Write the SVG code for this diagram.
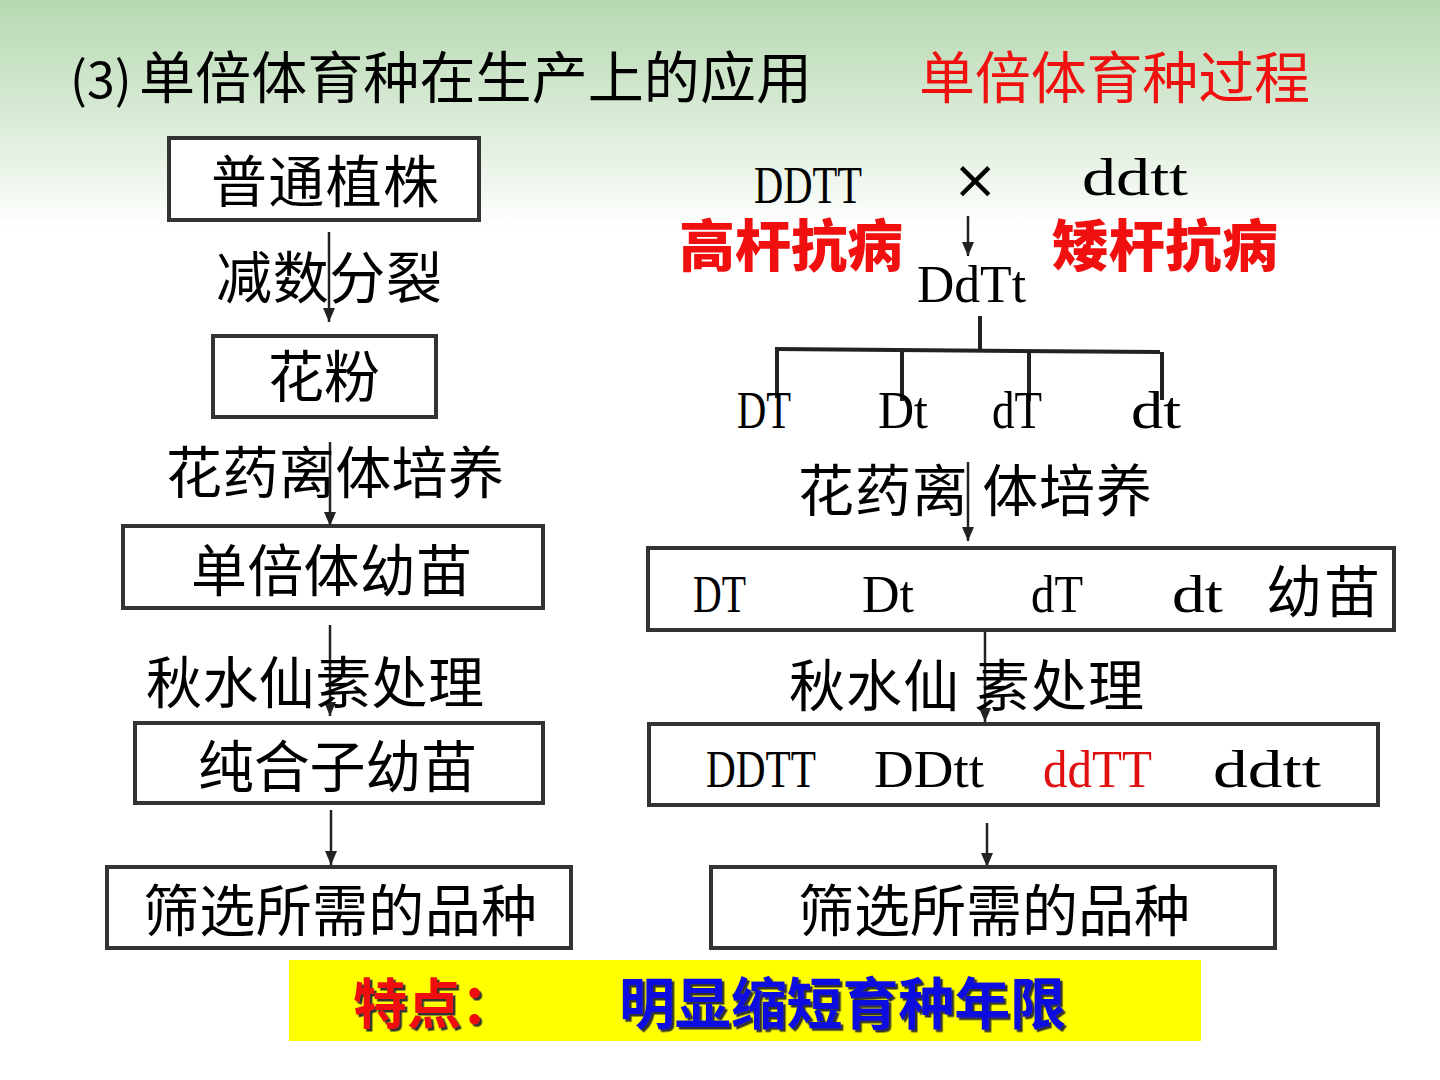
<svg xmlns="http://www.w3.org/2000/svg" width="1440" height="1080" viewBox="0 0 1440 1080">
<defs>
<linearGradient id="hdr" x1="0" y1="0" x2="0" y2="1">
<stop offset="0" stop-color="#b6d9b1"/>
<stop offset="0.55" stop-color="#dcecd9"/>
<stop offset="1" stop-color="#ffffff"/>
</linearGradient>
<marker id="ah" markerUnits="userSpaceOnUse" markerWidth="14" markerHeight="12" viewBox="0 0 14 12" refX="14" refY="6" orient="auto">
<path d="M0,0 L14,6 L0,12 Z" fill="#222"/>
</marker>
<filter id="sh" x="-5%" y="-10%" width="110%" height="130%">
<feDropShadow dx="2.5" dy="2.5" stdDeviation="0.6" flood-color="#333" flood-opacity="1"/>
</filter>
<style>
.cj{font-family:"Noto Sans CJK SC","Noto Sans",sans-serif;fill:#000;}
.bx{fill:#fff;stroke:#333;stroke-width:4;}
.ln{fill:none;stroke:#222;stroke-width:2.5;}
.tr{fill:none;stroke:#222;stroke-width:4;}
.se{font-family:"Liberation Serif","DejaVu Serif",serif;font-size:52px;fill:#000;}
.rb{font-family:"Noto Sans CJK SC",sans-serif;font-weight:900;font-size:56px;fill:#f01010;}
</style>
</defs>
<rect x="0" y="0" width="1440" height="1080" fill="#fff"/>
<rect x="0" y="0" width="1440" height="228" fill="url(#hdr)"/>

<g id="title">
<text class="cj" x="70" y="98" font-size="50">(3)</text>
<text class="cj" x="139" y="98" font-size="56" textLength="673">单倍体育种在生产上的应用</text>
<text class="cj" x="919" y="98" font-size="56" textLength="391" style="fill:#f01010">单倍体育种过程</text>
</g>

<g id="connectors">
<line class="ln" x1="329" y1="232" x2="329" y2="322" marker-end="url(#ah)"/>
<line class="ln" x1="330" y1="442" x2="330" y2="526" marker-end="url(#ah)"/>
<line class="ln" x1="330" y1="625" x2="330" y2="716" marker-end="url(#ah)"/>
<line class="ln" x1="331" y1="810" x2="331" y2="865" marker-end="url(#ah)"/>
<line class="ln" x1="968" y1="216" x2="968" y2="256" marker-end="url(#ah)"/>
<line class="ln" x1="968" y1="462" x2="968" y2="541" marker-end="url(#ah)"/>
<line class="ln" x1="985" y1="630" x2="985" y2="722" marker-end="url(#ah)"/>
<line class="ln" x1="987" y1="823" x2="987" y2="867" marker-end="url(#ah)"/>
<line class="tr" x1="980" y1="316" x2="980" y2="349"/>
<line class="tr" x1="775" y1="349" x2="1160" y2="352"/>
<line class="tr" x1="777" y1="349" x2="777" y2="398"/>
<line class="tr" x1="902" y1="350" x2="902" y2="401"/>
<line class="tr" x1="1029" y1="351" x2="1029" y2="401"/>
<line class="tr" x1="1162" y1="352" x2="1162" y2="400"/>
</g>

<g id="n-plant">
<rect class="bx" x="169" y="138" width="310" height="82"/>
<text class="cj" x="211" y="202" font-size="56" textLength="228">普通植株</text>
</g>
<g id="l-meiosis">
<text class="cj" x="216" y="298" font-size="56" textLength="226">减数分裂</text>
</g>
<g id="n-pollen">
<rect class="bx" x="213" y="336" width="223" height="81"/>
<text class="cj" x="268" y="397" font-size="56">花粉</text>
</g>
<g id="l-culture-left">
<text class="cj" x="166" y="493" font-size="56" textLength="338">花药离体培养</text>
</g>
<g id="n-haploid">
<rect class="bx" x="123" y="526" width="420" height="82"/>
<text class="cj" x="191" y="591" font-size="56" textLength="281">单倍体幼苗</text>
</g>
<g id="l-colch-left">
<text class="cj" x="146" y="703" font-size="56" textLength="338">秋水仙素处理</text>
</g>
<g id="n-homo">
<rect class="bx" x="135" y="723" width="408" height="80"/>
<text class="cj" x="198" y="787" font-size="56" textLength="279">纯合子幼苗</text>
</g>
<g id="n-select-left">
<rect class="bx" x="107" y="867" width="464" height="81"/>
<text class="cj" x="143" y="931" font-size="56" textLength="394">筛选所需的品种</text>
</g>

<g id="parents">
<text class="se" x="754" y="203" textLength="108" lengthAdjust="spacingAndGlyphs">DDTT</text>
<text x="975" y="198" font-family="DejaVu Sans,sans-serif" font-size="54" text-anchor="middle" fill="#000">×</text>
<text class="se" x="1082" y="195" textLength="106" lengthAdjust="spacingAndGlyphs">ddtt</text>
<text class="rb" x="679" y="266" textLength="224">高杆抗病</text>
<text class="rb" x="1052" y="266" textLength="226">矮杆抗病</text>
</g>
<g id="f1">
<text class="se" x="917" y="302" textLength="109" lengthAdjust="spacingAndGlyphs">DdTt</text>
</g>
<g id="gametes">
<text class="se" x="737" y="428" textLength="54" lengthAdjust="spacingAndGlyphs">DT</text>
<text class="se" x="878" y="428" textLength="50" lengthAdjust="spacingAndGlyphs">Dt</text>
<text class="se" x="992" y="428" textLength="50" lengthAdjust="spacingAndGlyphs">dT</text>
<text class="se" x="1131" y="428" textLength="50" lengthAdjust="spacingAndGlyphs">dt</text>
</g>
<g id="l-culture-right">
<text class="cj" x="798" y="511" font-size="56" textLength="354">花药离 体培养</text>
</g>
<g id="n-seedlings">
<rect class="bx" x="648" y="548" width="746" height="82"/>
<text class="se" x="693" y="612" textLength="53" lengthAdjust="spacingAndGlyphs">DT</text>
<text class="se" x="862" y="612" textLength="52" lengthAdjust="spacingAndGlyphs">Dt</text>
<text class="se" x="1031" y="612" textLength="52" lengthAdjust="spacingAndGlyphs">dT</text>
<text class="se" x="1172" y="612" textLength="51" lengthAdjust="spacingAndGlyphs">dt</text>
<text class="cj" x="1266" y="612" font-size="56" textLength="114">幼苗</text>
</g>
<g id="l-colch-right">
<text class="cj" x="789" y="706" font-size="56" textLength="355">秋水仙 素处理</text>
</g>
<g id="n-diploids">
<rect class="bx" x="649" y="724" width="729" height="81"/>
<text class="se" x="706" y="787" textLength="110" lengthAdjust="spacingAndGlyphs">DDTT</text>
<text class="se" x="874" y="787" textLength="110" lengthAdjust="spacingAndGlyphs">DDtt</text>
<text class="se" x="1043" y="787" textLength="109" lengthAdjust="spacingAndGlyphs" style="fill:#e01010">ddTT</text>
<text class="se" x="1213" y="787" textLength="108" lengthAdjust="spacingAndGlyphs">ddtt</text>
</g>
<g id="n-select-right">
<rect class="bx" x="711" y="867" width="564" height="81"/>
<text class="cj" x="798" y="931" font-size="56" textLength="392">筛选所需的品种</text>
</g>

<g id="feature">
<rect x="289" y="960" width="912" height="81" fill="#ffff00"/>
<text class="cj" x="353" y="1024" font-size="54" font-weight="bold" filter="url(#sh)" style="fill:#f01010">特点：</text>
<text class="cj" x="619" y="1024" font-size="56" font-weight="bold" textLength="447" filter="url(#sh)" style="fill:#1010e0">明显缩短育种年限</text>
</g>
</svg>
